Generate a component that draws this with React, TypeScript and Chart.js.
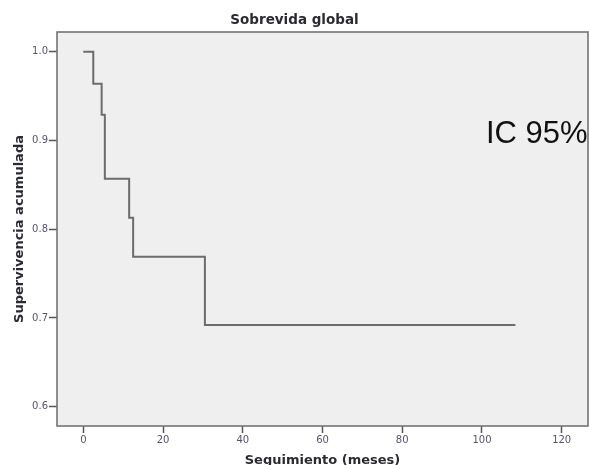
import React, { useEffect, useRef } from "react";
import { Chart, registerables } from "chart.js";

Chart.register(...registerables);

const chartTitle = "Sobrevida global";
const xAxisTitle = "Seguimiento (meses)";
const yAxisTitle = "Supervivencia acumulada";
const annotationText = "IC 95%";

// Kaplan-Meier step points (time in months, cumulative survival)
const times = [0, 2.5, 4.6, 5.4, 11.5, 12.5, 30.5, 108.4];
const survival = [1.0, 0.964, 0.929, 0.857, 0.813, 0.769, 0.692, 0.692];

const xTicks = [0, 20, 40, 60, 80, 100, 120];
const yTicks = [0.6, 0.7, 0.8, 0.9, 1.0];

const frameAndText = {
  id: "frameAndText",
  beforeDatasetsDraw(chart: any) {
    const { ctx, chartArea } = chart;
    ctx.save();
    ctx.fillStyle = "#efefef";
    ctx.fillRect(chartArea.left, chartArea.top, chartArea.right - chartArea.left, chartArea.bottom - chartArea.top);
    ctx.restore();
  },
  afterDraw(chart: any) {
    const { ctx, chartArea } = chart;
    ctx.save();
    // annotation
    ctx.fillStyle = "#111111";
    ctx.font = '31px "Liberation Sans", Arial, sans-serif';
    ctx.textAlign = "left";
    ctx.textBaseline = "alphabetic";
    ctx.fillText(annotationText, 486, 143);
    // frame
    ctx.strokeStyle = "#737373";
    ctx.lineWidth = 1.6;
    ctx.strokeRect(chartArea.left, chartArea.top, chartArea.right - chartArea.left, chartArea.bottom - chartArea.top);
    // title
    ctx.fillStyle = "#2a2a33";
    ctx.font = 'bold 13.5px "DejaVu Sans", sans-serif';
    ctx.textAlign = "center";
    ctx.textBaseline = "middle";
    ctx.fillText(chartTitle, 294.5, 20.5);
    ctx.restore();
  },
};

export default function App() {
  const ref = useRef<HTMLCanvasElement | null>(null);

  useEffect(() => {
    document.body.style.margin = "0";
    const canvas = ref.current;
    if (!canvas) return;
    const chart = new Chart(canvas, {
      type: "line",
      data: {
        datasets: [
          {
            data: times.map((t, i) => ({ x: t, y: survival[i] })),
            stepped: "before",
            borderColor: "#6c6c6c",
            borderWidth: 2,
            pointRadius: 0,
            fill: false,
          },
        ],
      },
      options: {
        responsive: false,
        animation: false,
        layout: { padding: { top: 32, right: 1, left: 0, bottom: 0 } },
        plugins: {
          legend: { display: false },
          tooltip: { enabled: false },
          title: { display: false },
        },
        scales: {
          x: {
            type: "linear",
            min: -6.6,
            max: 126.6,
            afterFit: (s: any) => {
              s.height = 39;
            },
            afterBuildTicks: (s: any) => {
              s.ticks = xTicks.map((v) => ({ value: v }));
            },
            ticks: {
              includeBounds: false,
              padding: 1,
              color: "#545470",
              font: { family: '"DejaVu Sans", sans-serif', size: 10 },
              callback: (v: any) => String(v),
              maxRotation: 0,
            },
            grid: {
              display: true,
              drawOnChartArea: false,
              drawTicks: true,
              tickLength: 7,
              tickColor: "#555555",
              tickWidth: 1.5,
            },
            border: { display: false },
            title: {
              display: true,
              text: xAxisTitle,
              color: "#2a2a33",
              font: { family: '"DejaVu Sans", sans-serif', size: 13, weight: "bold" },
              padding: { top: 0, bottom: -3 },
            },
          },
          y: {
            type: "linear",
            min: 0.5783,
            max: 1.0222,
            afterFit: (s: any) => {
              s.width = 57;
            },
            afterBuildTicks: (s: any) => {
              s.ticks = yTicks.map((v) => ({ value: v }));
            },
            ticks: {
              includeBounds: false,
              padding: 1,
              color: "#545470",
              font: { family: '"DejaVu Sans", sans-serif', size: 10 },
              callback: (v: any) => Number(v).toFixed(1),
            },
            grid: {
              display: true,
              drawOnChartArea: false,
              drawTicks: true,
              tickLength: 8,
              tickColor: "#555555",
              tickWidth: 1.5,
            },
            border: { display: false },
            title: {
              display: true,
              text: yAxisTitle,
              color: "#2a2a33",
              font: { family: '"DejaVu Sans", sans-serif', size: 13, weight: "bold" },
              padding: { top: 12, bottom: 0 },
            },
          },
        },
      },
      plugins: [frameAndText],
    });
    return () => chart.destroy();
  }, []);

  return (
    <div style={{ width: 589, height: 465 }}>
      <canvas ref={ref} width={589} height={465} style={{ display: "block" }} />
    </div>
  );
}
